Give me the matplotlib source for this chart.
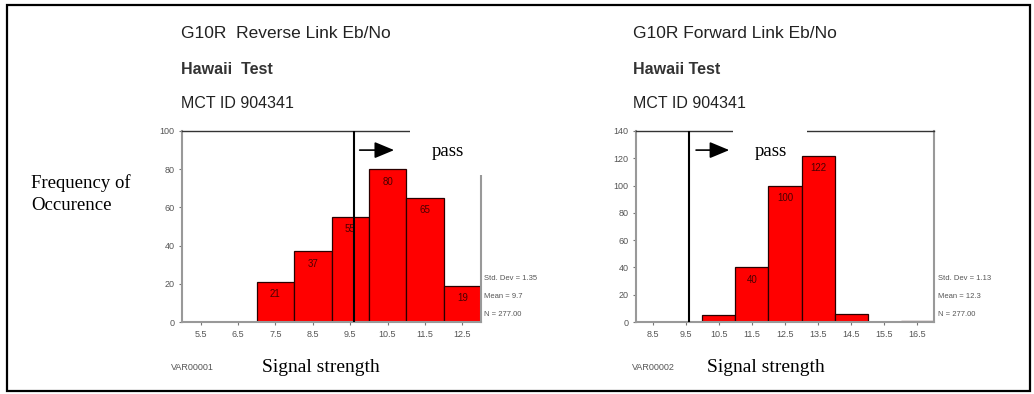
import matplotlib.pyplot as plt
from matplotlib.patches import Rectangle

# Histogram counts per 1 dB bin (bin centres)
rev_bins = [5.5, 6.5, 7.5, 8.5, 9.5, 10.5, 11.5, 12.5]
rev_counts = [0, 0, 21, 37, 55, 80, 65, 19]
fwd_bins = [8.5, 9.5, 10.5, 11.5, 12.5, 13.5, 14.5, 15.5, 16.5]
fwd_counts = [0, 0, 5, 40, 100, 122, 6, 0, 1]

rev_titles = ["G10R  Reverse Link Eb/No", "Hawaii  Test", "MCT ID 904341"]
fwd_titles = ["G10R Forward Link Eb/No", "Hawaii Test", "MCT ID 904341"]
rev_stats = ["Std. Dev = 1.35", "Mean = 9.7", "N = 277.00"]
fwd_stats = ["Std. Dev = 1.13", "Mean = 12.3", "N = 277.00"]
threshold = 9.6

W, H = 1034, 394
fig = plt.figure(figsize=(W / 100, H / 100), dpi=100)
sans = "Liberation Sans"
serif = "Liberation Serif"


def px(x, y):
    return x / W, 1 - y / H


def histogram(rect, bins, counts, xlim, ylim, yticks, arrow_x, box, pass_xy,
              titles, title_x, stats, stats_x, var_name, var_x, xlabel_x):
    ax = fig.add_axes(rect)
    ax.bar(bins, counts, width=1.0, color="#ff0000", edgecolor="#2a0000",
           linewidth=0.9, zorder=2)
    for b, c in zip(bins, counts):
        if c >= 15:
            ax.annotate(str(c), (b, c), xytext=(0, -9), textcoords="offset points",
                        ha="center", va="center", fontsize=7, color="#4a0000",
                        family=sans, zorder=3)
    ax.set_xlim(*xlim)
    ax.set_ylim(*ylim)
    ax.set_xticks(bins)
    ax.set_xticklabels([f"{b:.1f}" for b in bins])
    ax.set_yticks(yticks)
    ax.tick_params(labelsize=6.5, labelcolor="#555555", color="#777777",
                   length=2, width=0.8)
    for lab in ax.get_xticklabels() + ax.get_yticklabels():
        lab.set_family(sans)
    for side in ["left", "bottom", "right"]:
        ax.spines[side].set_color("#999999")
        ax.spines[side].set_linewidth(1.5)
    ax.spines["top"].set_color("#333333")
    ax.spines["top"].set_linewidth(1.0)

    # pass threshold and direction arrow
    ax.axvline(threshold, color="black", linewidth=1.5, zorder=4)
    ax.annotate("", xy=(arrow_x[1], ylim[1] * 0.9), xytext=(arrow_x[0], ylim[1] * 0.9),
                arrowprops=dict(arrowstyle="-|>,head_length=1.2,head_width=0.5",
                                color="black", linewidth=1.2), zorder=5)
    ax.add_patch(Rectangle((box[0], box[1]), box[2], box[3], transform=ax.transAxes,
                           facecolor="white", edgecolor="none", clip_on=False,
                           zorder=6))
    fig.text(*px(*pass_xy), "pass", fontsize=13.5, family=serif, ha="center",
             va="center", zorder=7)

    # header lines
    fig.text(*px(title_x, 33), titles[0], fontsize=12.5, family=sans,
             color="#222222", va="center")
    fig.text(*px(title_x, 70), titles[1], fontsize=11.5, family=sans,
             fontweight="bold", color="#333333", va="center")
    fig.text(*px(title_x, 104), titles[2], fontsize=11.5, family=sans,
             color="#222222", va="center")

    for i, s in enumerate(stats):
        fig.text(*px(stats_x, 279 + 17.5 * i), s, fontsize=5.5, family=sans,
                 color="#555555", va="center")

    fig.text(*px(var_x, 367), var_name, fontsize=6.5, family=sans,
             color="#555555", va="center")
    fig.text(*px(xlabel_x, 367), "Signal strength", fontsize=14, family=serif,
             va="center")
    return ax


histogram([182 / W, 1 - 322 / H, 299 / W, 191 / H], rev_bins, rev_counts,
          (5, 13), (0, 100), range(0, 101, 20), (9.68, 10.75),
          (0.763, 0.77, 0.30, 0.30), (448, 151),
          rev_titles, 181, rev_stats, 484, "VAR00001", 171, 262)

histogram([636 / W, 1 - 322 / H, 298 / W, 191 / H], fwd_bins, fwd_counts,
          (8, 17), (0, 140), range(0, 141, 20), (9.73, 10.9),
          (0.326, 0.88, 0.248, 0.20), (771, 151),
          fwd_titles, 633, fwd_stats, 938, "VAR00002", 632, 707)

fig.text(*px(31, 183), "Frequency of", fontsize=13.5, family=serif, va="center")
fig.text(*px(31, 206), "Occurence", fontsize=13.5, family=serif, va="center")

# outer frame
fig.add_artist(Rectangle((7 / W, 1 - 391 / H), 1023 / W, 386 / H,
                         transform=fig.transFigure, facecolor="none",
                         edgecolor="black", linewidth=1.6))

fig.savefig("out.png", dpi=100)
